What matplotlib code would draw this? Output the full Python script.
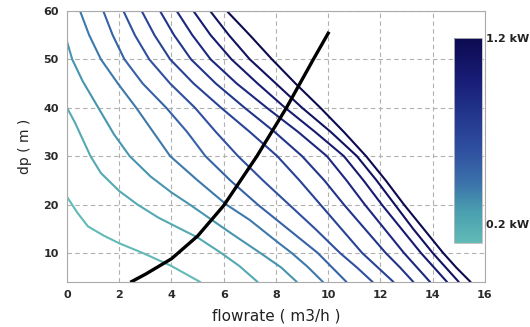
import matplotlib.pyplot as plt
import matplotlib as mpl
from matplotlib.colors import LinearSegmentedColormap

# pump power levels (kW), one curve each
powers = [0.1, 0.2, 0.3, 0.4, 0.5, 0.6, 0.7, 0.8, 0.9, 1.0, 1.1, 1.2]

# low-power curves, each with its own points
c1_x = [0, 0.4, 0.8, 1.4, 2.0, 2.9, 4.0, 5.1]
c1_y = [21.6, 18.3, 15.5, 13.6, 12.0, 10.0, 7.3, 4.0]
c2_x = [0, 0.3, 0.6, 0.9, 1.3, 2.0, 2.7, 3.5, 4.3, 5.0, 5.9, 6.6, 7.3]
c2_y = [40, 37, 33.5, 30, 26.5, 22.8, 20, 17.3, 15.1, 13.2, 10, 7.3, 4]
c3_x = [0, 0.2, 0.6, 1.2, 1.8, 2.4, 3.2, 4.0, 4.7, 5.5, 6.3, 7.4, 8.2, 8.8]
c3_y = [53.7, 50, 45.5, 40, 34.5, 30, 25.8, 22.5, 20, 17, 14, 10, 7, 4]
c4_x = [0.5, 0.85, 1.3, 1.95, 2.65, 3.3, 3.95, 5.0, 6.1, 7.0, 8.0, 8.6, 9.2, 9.8]
c4_y = [60, 55, 50, 45, 40, 35, 30, 25, 20, 16.8, 12.5, 10, 7.2, 4]

# the rest share the same head levels
dp_levels = [60, 55, 50, 45, 40, 35, 30, 25, 20, 15, 10, 7, 4]
c5_x = [1.39, 1.75, 2.2, 2.9, 3.8, 4.6, 5.3, 6.25, 7.3, 8.45, 9.6, 10.15, 10.7]
c6_x = [2.16, 2.6, 3.15, 3.95, 4.9, 5.7, 6.55, 7.5, 8.5, 9.5, 10.45, 11.1, 11.7]
c7_x = [2.86, 3.35, 3.95, 4.85, 5.9, 7.0, 8.05, 8.9, 9.7, 10.5, 11.3, 11.9, 12.5]
c8_x = [3.56, 4.1, 4.75, 5.7, 6.8, 7.95, 9.0, 9.85, 10.6, 11.4, 12.2, 12.75, 13.26]
c9_x = [4.2, 4.8, 5.5, 6.5, 7.65, 8.85, 9.95, 10.7, 11.4, 12.15, 12.9, 13.4, 13.9]
c10_x = [4.84, 5.5, 6.3, 7.3, 8.35, 9.5, 10.6, 11.35, 12.05, 12.8, 13.55, 14.05, 14.55]
c11_x = [5.48, 6.2, 7.0, 8.0, 9.0, 10.1, 11.1, 11.85, 12.55, 13.25, 14.0, 14.5, 15.0]
c12_x = [6.12, 7.0, 7.85, 8.75, 9.7, 10.6, 11.45, 12.2, 12.9, 13.65, 14.4, 14.9, 15.45]

# system curve
sys_x = [2.48, 3.0, 4.0, 5.0, 6.0, 7.27, 8.4, 9.43, 10.0]
sys_y = [4.1, 5.6, 8.8, 13.5, 19.8, 30, 40, 50, 55.4]

curves = [(c1_x, c1_y), (c2_x, c2_y), (c3_x, c3_y), (c4_x, c4_y),
          (c5_x, dp_levels), (c6_x, dp_levels), (c7_x, dp_levels),
          (c8_x, dp_levels), (c9_x, dp_levels), (c10_x, dp_levels),
          (c11_x, dp_levels), (c12_x, dp_levels)]

cmap = LinearSegmentedColormap.from_list(
    "pw", [(0.0, "#62bab6"), (0.15, "#4a9fb0"), (0.3, "#3a70aa"),
           (0.45, "#3050a0"), (0.6, "#243a90"), (0.8, "#181c75"),
           (1.0, "#0c0a50")])
norm = mpl.colors.Normalize(vmin=0.1, vmax=1.2)

fig = plt.figure(figsize=(5.3, 3.27), dpi=100)
ax = fig.add_axes([0.1264, 0.1376, 0.7886, 0.8288])

for p, (xs, ys) in zip(powers, curves):
    ax.plot(xs, ys, color=cmap(norm(p)), lw=1.5, solid_capstyle="round",
            solid_joinstyle="round")
ax.plot(sys_x, sys_y, color="black", lw=2.4, solid_joinstyle="round")

ax.set_xlim(0, 16)
ax.set_ylim(4, 60)
ax.set_xticks(range(0, 17, 2))
ax.set_yticks(range(10, 61, 10))
ax.grid(True, ls=(0, (4, 3)), color="#b0b0b0", lw=0.8)
ax.tick_params(length=0, pad=6, labelsize=8, labelcolor="#2a2a2a")
for lab in ax.get_xticklabels() + ax.get_yticklabels():
    lab.set_fontweight("bold")
for s in ax.spines.values():
    s.set_color("#aaaaaa")
    s.set_linewidth(0.8)
ax.set_xlabel("flowrate ( m3/h )", fontsize=11, color="#222222", labelpad=6)
ax.set_ylabel("dp ( m )", fontsize=10, color="#222222", labelpad=8)

cax = fig.add_axes([0.8566, 0.2569, 0.0528, 0.627])
cb = fig.colorbar(mpl.cm.ScalarMappable(norm=norm, cmap=cmap), cax=cax)
cb.set_ticks([0.2, 1.2])
cb.set_ticklabels(["0.2 kW", "1.2 kW"])
cb.outline.set_edgecolor("#bbbbbb")
cb.outline.set_linewidth(0.6)
cax.tick_params(length=0, pad=3, labelsize=8, labelcolor="#222222")
for lab in cax.get_yticklabels():
    lab.set_fontweight("bold")

fig.savefig("out.png", dpi=100)
